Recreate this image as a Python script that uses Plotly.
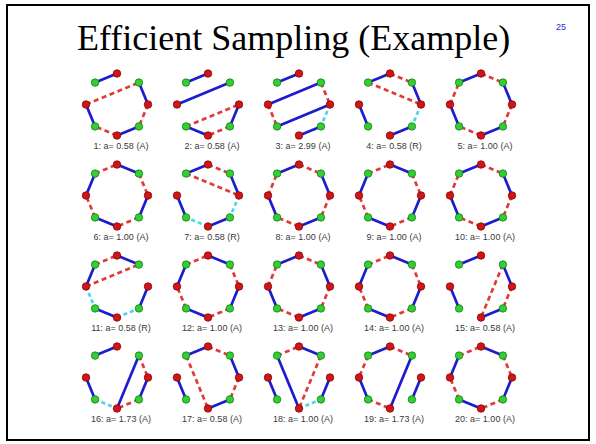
import math
import plotly.graph_objects as go

# ---------------- data ----------------
title_text = "Efficient Sampling (Example)"
slide_number = "25"

panel_labels = [
    "1: a= 0.58 (A)", "2: a= 0.58 (A)", "3: a= 2.99 (A)", "4: a= 0.58 (R)", "5: a= 1.00 (A)",
    "6: a= 1.00 (A)", "7: a= 0.58 (R)", "8: a= 1.00 (A)", "9: a= 1.00 (A)", "10: a= 1.00 (A)",
    "11: a= 0.58 (R)", "12: a= 1.00 (A)", "13: a= 1.00 (A)", "14: a= 1.00 (A)", "15: a= 0.58 (A)",
    "16: a= 1.73 (A)", "17: a= 0.58 (A)", "18: a= 1.00 (A)", "19: a= 1.73 (A)", "20: a= 1.00 (A)",
]

# node i sits on an octagon, 0 = top, going clockwise; even = red, odd = green
node_colors = ["red", "green", "red", "green", "red", "green", "red", "green"]

# edges per panel: (node a, node b, style) ; b = blue solid, r = red dashed, c = cyan dashed
ALT_A = [(7, 0, "b"), (0, 1, "r"), (1, 2, "b"), (2, 3, "r"), (3, 4, "b"), (4, 5, "r"), (5, 6, "b"), (6, 7, "r")]
ALT_B = [(7, 0, "r"), (0, 1, "b"), (1, 2, "r"), (2, 3, "b"), (3, 4, "r"), (4, 5, "b"), (5, 6, "r"), (6, 7, "b")]

panel_edges = [
    [(7, 0, "b"), (6, 1, "r"), (1, 2, "b"), (2, 3, "r"), (3, 4, "b"), (4, 5, "r"), (5, 6, "b")],
    [(7, 0, "b"), (6, 1, "b"), (5, 2, "r"), (2, 3, "b"), (3, 4, "r"), (4, 5, "b")],
    [(7, 0, "b"), (6, 1, "b"), (1, 2, "r"), (2, 5, "b"), (6, 5, "r"), (2, 3, "c"), (3, 4, "b")],
    [(7, 0, "b"), (0, 1, "r"), (7, 2, "r"), (1, 2, "b"), (2, 3, "c"), (3, 4, "b"), (6, 5, "b")],
    ALT_A,
    ALT_B,
    [(7, 0, "b"), (0, 1, "r"), (7, 2, "r"), (1, 2, "b"), (2, 3, "c"), (3, 4, "b"), (4, 5, "c"), (5, 6, "b")],
    ALT_A,
    ALT_B,
    ALT_A,
    [(7, 0, "r"), (0, 1, "b"), (7, 6, "b"), (6, 1, "r"), (6, 5, "c"), (5, 4, "b"), (4, 3, "c"), (3, 2, "b")],
    ALT_B,
    ALT_A,
    ALT_B,
    [(7, 0, "b"), (1, 2, "b"), (1, 4, "r"), (2, 3, "r"), (3, 4, "b"), (6, 5, "b")],
    [(7, 0, "b"), (1, 4, "b"), (1, 2, "r"), (2, 3, "b"), (3, 4, "r"), (5, 4, "c"), (6, 5, "b")],
    [(7, 0, "b"), (0, 1, "r"), (1, 2, "b"), (2, 3, "r"), (3, 4, "b"), (7, 4, "r"), (6, 5, "b")],
    [(7, 0, "r"), (0, 1, "b"), (1, 4, "r"), (4, 3, "c"), (3, 2, "b"), (7, 4, "b"), (6, 5, "b")],
    [(7, 0, "b"), (0, 1, "r"), (7, 6, "r"), (6, 5, "b"), (5, 4, "r"), (4, 1, "b"), (2, 3, "b")],
    ALT_B,
]

# ---------------- layout geometry ----------------
W, H = 596, 444
COLS = 5
X0, DX = 117, 91
Y0, DY = 104.5, 91
R = 31
LABEL_DY = 42
LABEL_DX = 4

styles = {
    "b": dict(color="#1c1ccc", width=2.7, dash="solid"),
    "r": dict(color="#e23a3a", width=2.7, dash="5px,3.5px"),
    "c": dict(color="#4fd6e6", width=2.7, dash="4px,3px"),
}


def node_xy(cx, cy, i):
    th = math.radians(90 - 45 * i)
    return cx + R * math.cos(th), cy - R * math.sin(th)


fig = go.Figure()

edge_xy = {k: ([], []) for k in styles}
node_pts = {"red": ([], []), "green": ([], [])}
lab_x, lab_y = [], []

for p, edges in enumerate(panel_edges):
    row, col = divmod(p, COLS)
    cx, cy = X0 + col * DX, Y0 + row * DY
    for a, b, s in edges:
        xa, ya = node_xy(cx, cy, a)
        xb, yb = node_xy(cx, cy, b)
        edge_xy[s][0].extend([xa, xb, None])
        edge_xy[s][1].extend([ya, yb, None])
    for i, c in enumerate(node_colors):
        x, y = node_xy(cx, cy, i)
        node_pts[c][0].append(x)
        node_pts[c][1].append(y)
    lab_x.append(cx + LABEL_DX)
    lab_y.append(cy + LABEL_DY)

for s in ["c", "r", "b"]:
    st = styles[s]
    fig.add_trace(go.Scatter(
        x=edge_xy[s][0], y=edge_xy[s][1], mode="lines",
        line=dict(color=st["color"], width=st["width"], dash=st["dash"]),
        hoverinfo="skip", showlegend=False))

marker_style = {
    "red": dict(color="#d41414", line=dict(color="#7a0a0a", width=0.8)),
    "green": dict(color="#2fd02f", line=dict(color="#1a7a1a", width=0.8)),
}
for c in ["red", "green"]:
    fig.add_trace(go.Scatter(
        x=node_pts[c][0], y=node_pts[c][1], mode="markers",
        marker=dict(size=7.5, **marker_style[c]),
        hoverinfo="skip", showlegend=False))

fig.add_trace(go.Scatter(
    x=lab_x, y=lab_y, mode="text", text=panel_labels,
    textfont=dict(family="Liberation Sans, Arial", size=9, color="#3a3a3a"),
    textposition="middle center", hoverinfo="skip", showlegend=False))

fig.add_annotation(x=293, y=38, text=title_text, showarrow=False,
                   xanchor="center", yanchor="middle",
                   font=dict(family="Liberation Serif, Times New Roman", size=36, color="#000000"))
fig.add_annotation(x=561, y=27, text=slide_number, showarrow=False,
                   xanchor="center", yanchor="middle",
                   font=dict(family="Liberation Sans, Arial", size=9, color="#2a2ad0"))

fig.add_shape(type="rect", x0=7, y0=5, x1=589, y1=440, xref="x", yref="y",
              line=dict(color="#000000", width=2), fillcolor="rgba(0,0,0,0)", layer="below")

fig.update_layout(
    width=W, height=H,
    margin=dict(l=0, r=0, t=0, b=0),
    paper_bgcolor="white", plot_bgcolor="white",
    xaxis=dict(range=[0, W], visible=False, fixedrange=True),
    yaxis=dict(range=[H, 0], visible=False, fixedrange=True),
    showlegend=False,
)

fig.write_html(
    "out.html",
    config={"displayModeBar": False},
    post_script="document.body.style.margin='0px';document.body.style.overflow='hidden';",
)
